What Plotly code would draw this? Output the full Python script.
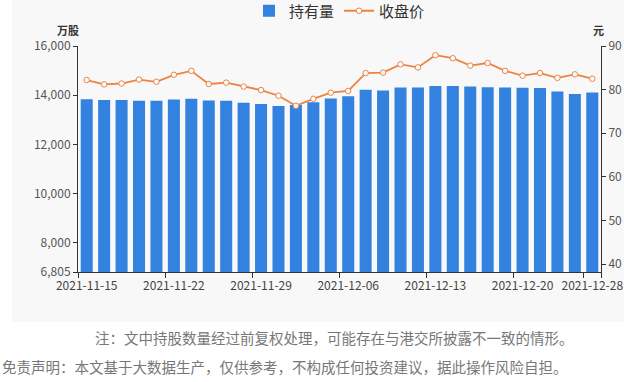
import plotly.graph_objects as go

dates = ["2021-11-15", "2021-11-16", "2021-11-17", "2021-11-18", "2021-11-19",
         "2021-11-22", "2021-11-23", "2021-11-24", "2021-11-25", "2021-11-26",
         "2021-11-29", "2021-11-30", "2021-12-01", "2021-12-02", "2021-12-03",
         "2021-12-06", "2021-12-07", "2021-12-08", "2021-12-09", "2021-12-10",
         "2021-12-13", "2021-12-14", "2021-12-15", "2021-12-16", "2021-12-17",
         "2021-12-20", "2021-12-21", "2021-12-22", "2021-12-23", "2021-12-28"]

holdings = [13830, 13800, 13800, 13770, 13770, 13825, 13850, 13785, 13770, 13690,
            13640, 13560, 13595, 13710, 13860, 13960, 14220, 14190, 14310, 14310,
            14370, 14370, 14350, 14325, 14310, 14305, 14290, 14150, 14050, 14110]

close_price = [82.2, 81.2, 81.4, 82.3, 81.8, 83.4, 84.3, 81.3, 81.6, 80.7,
               79.9, 78.6, 76.3, 77.9, 79.3, 79.7, 83.8, 83.9, 85.8, 85.1,
               87.9, 87.2, 85.5, 86.1, 84.3, 83.2, 83.8, 82.7, 83.5, 82.5]

label_dates = ["2021-11-15", "2021-11-22", "2021-11-29", "2021-12-06",
               "2021-12-13", "2021-12-20", "2021-12-28"]
left_ticks = [6805, 8000, 10000, 12000, 14000, 16000]
right_ticks = [40, 50, 60, 70, 80, 90]

W, H = 624, 382
L, R, T, B = 78, 23, 46, 110
pw, ph = W - L - R, H - T - B

def px(x):
    return (x - L) / pw

def py(y):
    return (H - B - y) / ph

font_cjk = "Noto Sans CJK SC, Microsoft YaHei, sans-serif"
blue = "#3382e0"
orange = "#ec8440"

fig = go.Figure()
fig.add_trace(go.Bar(x=dates, y=holdings, name="持有量", marker_color=blue,
                     marker_line_width=0))
fig.add_trace(go.Scatter(x=dates, y=close_price, name="收盘价", yaxis="y2",
                         mode="lines+markers",
                         line=dict(color=orange, width=1.8),
                         marker=dict(size=5.5, color="white",
                                     line=dict(color=orange, width=1))))

fig.add_shape(type="rect", xref="paper", yref="paper", layer="below",
              x0=px(12), x1=px(630), y0=py(322), y1=py(-5),
              fillcolor="#f8f8f8", line_width=0)

fig.update_layout(
    width=W, height=H,
    margin=dict(l=L, r=R, t=T, b=B, autoexpand=False),
    paper_bgcolor="white", plot_bgcolor="#f8f8f8",
    bargap=0.31,
    font=dict(family=font_cjk, size=12, color="#555"),
    showlegend=True,
    legend=dict(orientation="h", x=0.5, xanchor="center", y=py(11), yanchor="middle",
                font=dict(size=15, color="#333"), bgcolor="rgba(0,0,0,0)",
                itemwidth=30, tracegroupgap=0),
    xaxis=dict(type="category", tickmode="array", tickvals=label_dates,
               ticktext=label_dates, tickson="boundaries", ticks="outside",
               ticklen=5, tickcolor="#333", showline=True, linecolor="#333",
               linewidth=1, showgrid=False, tickangle=0, ticklabelstandoff=3,
               tickfont=dict(size=12, color="#444"), range=[-0.5, 29.5]),
    yaxis=dict(range=[6805, 16000], tickmode="array", tickvals=left_ticks,
               tickformat=",", ticks="outside", ticklen=4, tickcolor="#333",
               showline=True, linecolor="#333", linewidth=1, showgrid=False,
               zeroline=False, tickfont=dict(size=12, color="#555")),
    yaxis2=dict(range=[38.2, 90], overlaying="y", side="right", tickmode="array",
                tickvals=right_ticks, ticks="outside", ticklen=4, tickcolor="#333",
                showline=True, linecolor="#333", linewidth=1, showgrid=False,
                zeroline=False, tickfont=dict(size=12, color="#555")),
)

fig.add_annotation(text="<b>万股</b>", xref="paper", yref="paper", x=px(68), y=py(30),
                   xanchor="center", yanchor="middle",
                   showarrow=False, font=dict(size=11, color="#333"))
fig.add_annotation(text="<b>元</b>", xref="paper", yref="paper", x=px(598), y=py(30),
                   xanchor="center", yanchor="middle",
                   showarrow=False, font=dict(size=11, color="#333"))
fig.add_annotation(text="注：文中持股数量经过前复权处理，可能存在与港交所披露不一致的情形。",
                   xref="paper", yref="paper", x=px(334), y=py(337),
                   xanchor="center", yanchor="middle", showarrow=False,
                   font=dict(size=14.5, color="#777"))
fig.add_annotation(text="免责声明：本文基于大数据生产，仅供参考，不构成任何投资建议，据此操作风险自担。",
                   xref="paper", yref="paper", x=px(0), y=py(366),
                   xanchor="left", yanchor="middle",
                   showarrow=False, font=dict(size=14.5, color="#777"))

fig.write_html("out.html")
